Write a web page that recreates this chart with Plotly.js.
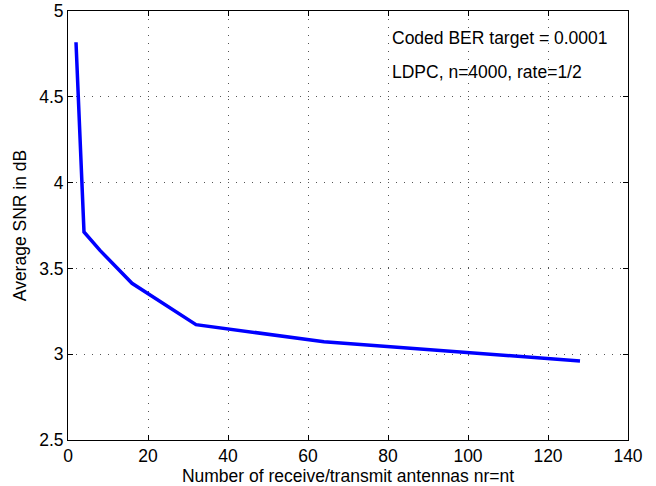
<!DOCTYPE html>
<html>
<head>
<meta charset="utf-8">
<script src="https://cdn.plot.ly/plotly-3.0.1.min.js"></script>
<style>html,body{margin:0;padding:0;background:#fff;}#plot{width:656px;height:486px;}</style>
</head>
<body>
<div id="plot"></div>
<script>
const antennas = [2, 4, 8, 16, 32, 64, 128];
const snrDb = [4.818, 3.712, 3.605, 3.413, 3.172, 3.073, 2.96];
const xTicks = [0, 20, 40, 60, 80, 100, 120, 140];
const yTicks = [2.5, 3, 3.5, 4, 4.5, 5];
const notes = ["Coded BER target = 0.0001", "LDPC, n=4000, rate=1/2"];
const noteY = [4.84, 4.646];
const noteX = 80.5;

const FONT = "Liberation Sans, Arial, Helvetica, sans-serif";
const FS = 17.5;

const trace = {
  x: antennas, y: snrDb, type: "scatter", mode: "lines",
  line: {color: "#0000ff", width: 3.5}, showlegend: false, hoverinfo: "none"
};

const axisCommon = {
  showline: true, linecolor: "#000", linewidth: 1, mirror: "ticks",
  ticks: "inside", ticklen: 5, tickcolor: "#000", tickwidth: 1,
  showgrid: true, gridcolor: "#555", griddash: "1px,7px", gridwidth: 1,
  zeroline: false, tickfont: {family: FONT, size: FS, color: "#000"}
};

const layout = {
  width: 656, height: 486,
  margin: {l: 68, r: 28, t: 11, b: 46},
  paper_bgcolor: "#fff", plot_bgcolor: "#fff",
  font: {family: FONT, color: "#000"},
  xaxis: Object.assign({}, axisCommon, {
    range: [0, 140], tickmode: "array", tickvals: xTicks, ticktext: xTicks.map(String),
    title: {text: "Number of receive/transmit antennas nr=nt", font: {family: FONT, size: FS, color: "#000"}, standoff: 2}
  }),
  yaxis: Object.assign({}, axisCommon, {
    range: [2.5, 5], tickmode: "array", tickvals: yTicks, ticktext: yTicks.map(String),
    title: {text: "Average SNR in dB", font: {family: FONT, size: FS, color: "#000"}, standoff: 8}
  }),
  annotations: notes.map((t, i) => ({
    x: noteX, y: noteY[i], xref: "x", yref: "y", text: t, showarrow: false,
    xanchor: "left", yanchor: "middle", font: {family: FONT, size: FS, color: "#000"}
  }))
};

Plotly.newPlot("plot", [trace], layout, {staticPlot: true, displayModeBar: false});
</script>
</body>
</html>
